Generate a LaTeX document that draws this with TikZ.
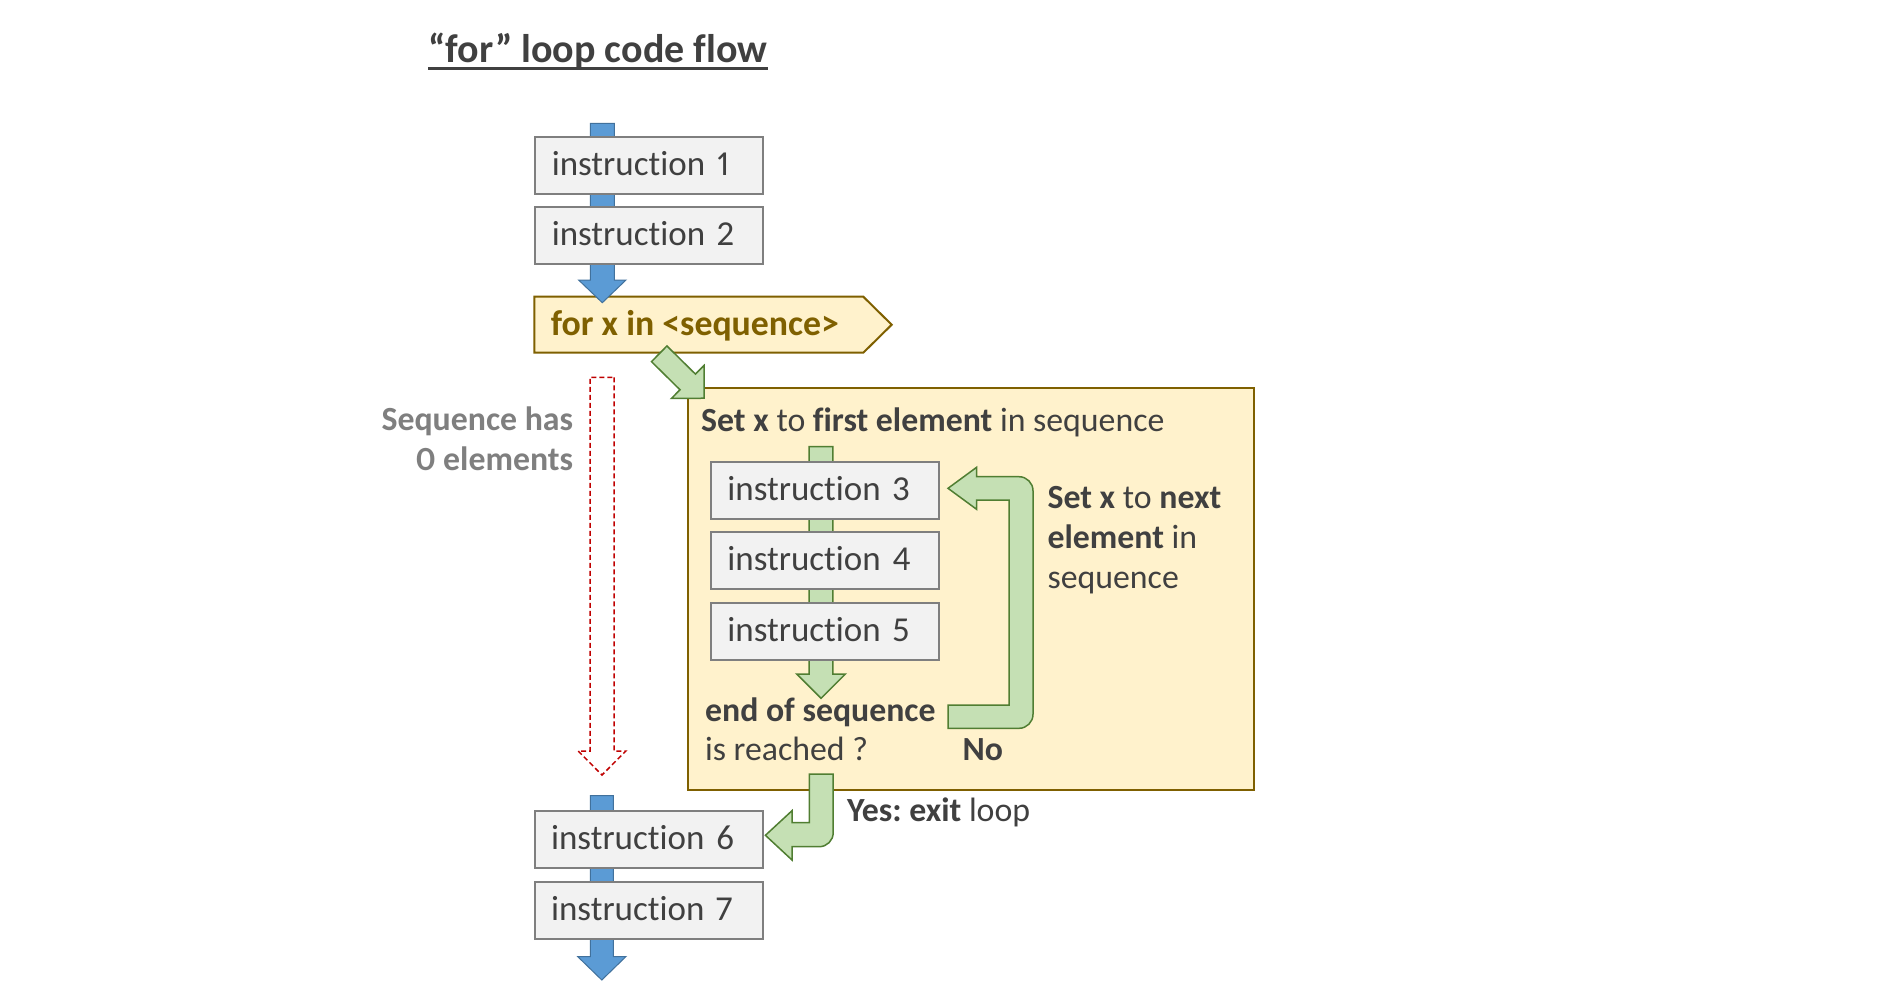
\documentclass[tikz,border=0pt]{standalone}
\usepackage{fontspec}
\setmainfont{Carlito}[Ligatures=NoCommon,Numbers={Proportional,Lining}]
\usetikzlibrary{calc}
\frenchspacing
\definecolor{txt}{HTML}{404040}
\definecolor{boxfill}{HTML}{F2F2F2}
\definecolor{boxdraw}{HTML}{7F7F7F}
\definecolor{yfill}{HTML}{FFF2CC}
\definecolor{ydraw}{HTML}{7F6000}
\definecolor{gfill}{HTML}{C5E0B4}
\definecolor{gdraw}{HTML}{507E32}
\definecolor{bfill}{HTML}{5B9BD5}
\definecolor{bdraw}{HTML}{41719C}
\definecolor{rdraw}{HTML}{C00000}
\definecolor{graytxt}{HTML}{7F7F7F}
\pgfdeclarelayer{bg}\pgfdeclarelayer{arr}\pgfsetlayers{bg,arr,main}
\newcommand\blockarrow[6]{%
  \path[#1] let \p1=#2, \p2=#3,
    \n1={veclen(\x2-\x1,\y2-\y1)}, \n2={atan2(\y2-\y1,\x2-\x1)} in
    {[shift={(\p1)},rotate=\n2]
      (0pt,#4pt) -- ({\n1-#6pt},#4pt) -- ({\n1-#6pt},#5pt) -- ({\n1},0pt)
      -- ({\n1-#6pt},-#5pt) -- ({\n1-#6pt},-#4pt) -- (0pt,-#4pt) -- cycle};}
\tikzset{
  instr/.style={draw=boxdraw, fill=boxfill, line width=2pt, anchor=north west,
    minimum width=228pt, minimum height=57pt, inner xsep=16.4pt, inner ysep=0pt,
    text width=195pt, align=left, text height=38.5pt, text depth=18.5pt,
    font=\fontsize{35}{42}\selectfont, text=txt},
  lbl/.style={inner sep=0pt, anchor=base west, font=\fontsize{33.8}{40}\selectfont, text=txt},
  graylbl/.style={inner sep=0pt, anchor=base east, font=\fontsize{33.8}{40}\selectfont\bfseries, text=graytxt},
  bluearr/.style={fill=bfill, draw=bdraw, line width=1pt},
  garr/.style={fill=gfill, draw=gdraw, line width=1.5pt},
  rarr/.style={draw=rdraw, line width=1.5pt, dash pattern=on 5pt off 3pt},
  ybox/.style={fill=yfill, draw=ydraw, line width=2pt},
}
\begin{document}
\begin{tikzpicture}[x=1pt,y=-1pt]
\begin{pgfonlayer}{bg}
  \fill[white] (0,0) rectangle (1884,999);
  \node[ybox, anchor=north west, minimum width=566.4pt, minimum height=402pt, inner sep=0pt] (loop) at (686.9,387.3) {};
  \path[ybox] (534.3,296.7) -- (863.3,296.7) -- (891.7,324.7) -- (863.3,352.7) -- (534.3,352.7) -- cycle;
\end{pgfonlayer}
\useasboundingbox (0,0) rectangle (1884,999);

% title
\node[inner sep=0pt, anchor=base west, font=\fontsize{40}{48}\selectfont\bfseries, text=txt] (title) at (428.3,62.3) {“for” loop code flow};
\draw[txt, line width=3pt] ([yshift=-6pt]title.base west) -- ([yshift=-6pt]title.base east);

% instruction boxes
\node[instr] (i1) at (534.3,135.7) {instruction 1};
\node[instr] (i2) at (534.3,206) {instruction 2};
\node[instr] (i3) at (709.9,460.7) {instruction 3};
\node[instr] (i4) at (709.9,530.7) {instruction 4};
\node[instr] (i5) at (709.9,601.7) {instruction 5};
\node[instr] (i6) at (533.6,810) {instruction 6};
\node[instr] (i7) at (533.6,880.7) {instruction 7};

% for header
\node[inner sep=0pt, anchor=base west, font=\fontsize{35.8}{42}\selectfont\bfseries, text=ydraw] (for) at (550.7,335.5) {for x in <sequence>};

% labels
\node[lbl] (setfirst) at (701,431.7) {\bfseries Set x\mdseries{} to \bfseries first element\mdseries{} in sequence};
\node[lbl] (eos1) at (704.9,721.7) {\bfseries end of sequence};
\node[lbl] (eos2) at (704.9,760) {is reached ?};
\node[lbl] (no) at (962.4,760) {\bfseries No};
\node[lbl] (next1) at (1047.4,508.3) {\bfseries Set x\mdseries{} to \bfseries next};
\node[lbl] (next2) at (1047.4,548.3) {\bfseries element\mdseries{} in};
\node[lbl] (next3) at (1047.4,588.3) {sequence};
\node[lbl] (yes) at (846.8,821.7) {\bfseries Yes: exit\mdseries{} loop};
\node[graylbl] (seq1) at (573.3,430) {Sequence has};
\node[graylbl] (seq2) at (573.3,470) {0 elements};

% arrow end points
\coordinate (b1s) at (602.3,123.3);
\coordinate (b1e) at (602.3,302.7);
\coordinate (b2s) at (601.8,795.7);
\coordinate (b2e) at (601.8,980);
\coordinate (rs) at (602,377.3);
\coordinate (re) at (602,775);
\coordinate (gs) at (821,446.7);
\coordinate (ge) at (821,698.3);
\coordinate (ds) at (659.2,353.8);
\coordinate (de) at (704.3,398.3);

\begin{pgfonlayer}{arr}
  \blockarrow{bluearr}{(b1s)}{(b1e)}{12}{23.7}{22.7}
  \blockarrow{bluearr}{(b2s)}{(b2e)}{11.5}{24}{23.3}
  \blockarrow{rarr}{(rs)}{(re)}{12}{23.8}{24}
  \blockarrow{garr}{(gs)}{(ge)}{11.85}{24.3}{24.3}
  \blockarrow{garr}{(ds)}{(de)}{11}{23.2}{23.2}
  % loop back arrow
  \path[garr] (948,705) -- (1009,705) -- (1009,500) -- (976.6,500) -- (976.6,509.3)
     -- (948,488.3) -- (976.6,467.3) -- (976.6,476.7) [rounded corners=14pt] -- (1033,476.7)
     -- (1033,728.3) [sharp corners] -- (948,728.3) -- cycle;
  % exit arrow
  \path[garr] (809.3,774) -- (833.2,774) [rounded corners=14pt] -- (833.2,846.7) [sharp corners]
     -- (792,846.7) -- (792,860) -- (765.4,835.3) -- (792,810.7) -- (792,822.7) -- (809.3,822.7) -- cycle;
\end{pgfonlayer}
\end{tikzpicture}
\end{document}
